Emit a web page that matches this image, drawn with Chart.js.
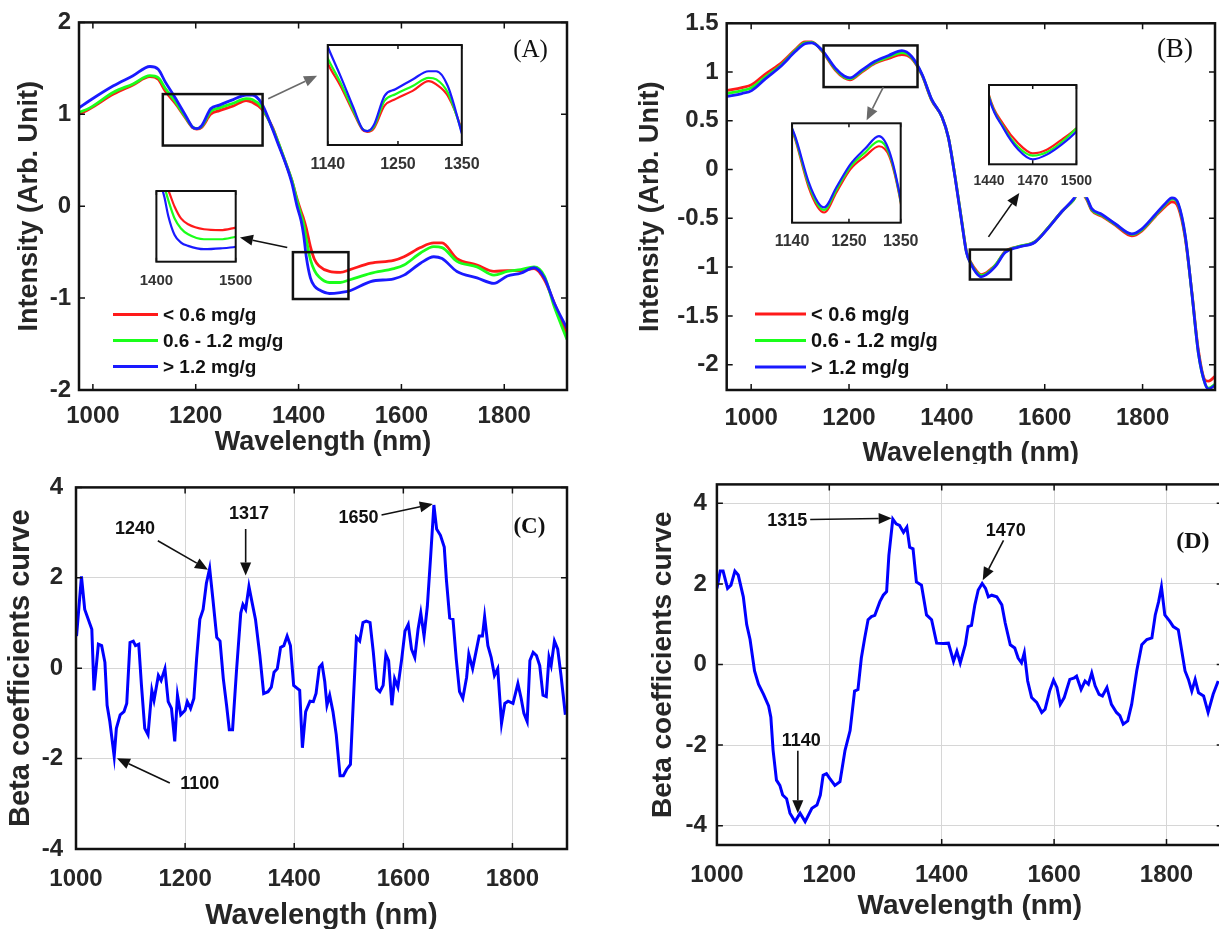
<!DOCTYPE html>
<html>
<head>
<meta charset="utf-8">
<title>NIR spectra and beta coefficients</title>
<script src="https://cdn.jsdelivr.net/npm/chart.js@4.4.1/dist/chart.umd.min.js"></script>
<style>
  html, body { margin: 0; padding: 0; background: #fff; overflow: hidden; }
  body { position: relative; width: 1219px; height: 929px; }
  canvas { position: absolute; }
  #clipB { position: absolute; left: 600px; top: 0; width: 619px; height: 464px; overflow: hidden; }
</style>
</head>
<body>
<canvas id="chartA" width="600" height="460" style="left:0;top:0"></canvas>
<div id="clipB"><canvas id="chartB" width="619" height="470" style="left:0;top:0"></canvas></div>
<canvas id="chartC" width="600" height="480" style="left:0;top:460px"></canvas>
<canvas id="chartD" width="640" height="480" style="left:600px;top:460px"></canvas>
<canvas id="insetA1" width="190" height="145" style="left:300px;top:35px"></canvas>
<canvas id="insetA2" width="135" height="115" style="left:130px;top:180px"></canvas>
<canvas id="insetB1" width="165" height="150" style="left:765px;top:113px"></canvas>
<canvas id="insetB2" width="135" height="126" style="left:965px;top:75px"></canvas>
<script>
// ---- (A) mean spectra per class ----
const waveA = [973, 994, 1040, 1078, 1111, 1127, 1141, 1160, 1180, 1194, 1202, 1212, 1229, 1246, 1273, 1298, 1310, 1328,
  1350, 1358, 1377, 1387, 1397, 1405, 1410, 1415, 1423, 1431, 1440, 1460, 1481, 1500, 1540, 1585, 1605, 1637,
  1663, 1679, 1708, 1747, 1780, 1806, 1832, 1858, 1878, 1897, 1922];
const lowA = [1.00, 1.06, 1.22, 1.32, 1.41, 1.38, 1.25, 1.12, 0.96, 0.855, 0.84, 0.86, 1.00, 1.04, 1.09, 1.15, 1.13, 1.06,
  0.85, 0.73, 0.44, 0.28, 0.08, -0.06, -0.14, -0.24, -0.44, -0.58, -0.65, -0.71, -0.72, -0.69, -0.62, -0.59, -0.55, -0.45,
  -0.40, -0.40, -0.57, -0.64, -0.71, -0.70, -0.70, -0.68, -0.80, -1.05, -1.39];
const midA = [1.02, 1.07, 1.24, 1.33, 1.42, 1.40, 1.28, 1.14, 0.97, 0.86, 0.845, 0.87, 1.03, 1.07, 1.12, 1.17, 1.16, 1.08,
  0.84, 0.73, 0.44, 0.28, 0.06, -0.10, -0.20, -0.36, -0.58, -0.70, -0.77, -0.83, -0.83, -0.80, -0.73, -0.68, -0.64, -0.51,
  -0.44, -0.45, -0.60, -0.66, -0.75, -0.71, -0.69, -0.66, -0.76, -1.09, -1.45];
const highA = [1.07, 1.15, 1.31, 1.42, 1.52, 1.49, 1.35, 1.18, 0.99, 0.86, 0.845, 0.88, 1.06, 1.10, 1.16, 1.21, 1.21, 1.12,
  0.83, 0.71, 0.43, 0.25, 0.00, -0.16, -0.32, -0.55, -0.78, -0.87, -0.91, -0.95, -0.94, -0.92, -0.82, -0.79, -0.75, -0.62,
  -0.55, -0.57, -0.71, -0.78, -0.84, -0.76, -0.73, -0.67, -0.78, -1.05, -1.33];

// ---- (B) mean spectra per class ----
const waveB = [950, 981, 1001, 1029, 1063, 1090, 1110, 1124, 1144, 1172, 1190, 1202, 1226, 1253, 1281, 1308, 1328, 1349,
  1369, 1390, 1403, 1417, 1431, 1440, 1450, 1460, 1470, 1480, 1490, 1500, 1519, 1546, 1580, 1608, 1635, 1659,
  1672, 1686, 1696, 1717, 1744, 1778, 1798, 1826, 1846, 1860, 1873, 1887, 1901, 1914, 1928, 1935, 1948];
const lowB = [0.81, 0.84, 0.87, 0.98, 1.10, 1.23, 1.31, 1.31, 1.22, 1.02, 0.94, 0.92, 1.00, 1.09, 1.14, 1.18, 1.14, 0.97,
  0.71, 0.54, 0.33, -0.08, -0.55, -0.84, -0.96, -1.035, -1.076, -1.06, -1.02, -0.975, -0.84, -0.79, -0.74, -0.59, -0.43, -0.31,
  -0.22, -0.31, -0.42, -0.48, -0.57, -0.68, -0.63, -0.48, -0.38, -0.33, -0.39, -0.70, -1.27, -1.85, -2.16, -2.17, -2.12];
const midB = [0.78, 0.81, 0.84, 0.95, 1.08, 1.22, 1.30, 1.305, 1.225, 1.03, 0.95, 0.93, 1.01, 1.10, 1.155, 1.20, 1.15, 0.975,
  0.715, 0.54, 0.33, -0.08, -0.55, -0.845, -0.97, -1.05, -1.085, -1.07, -1.03, -0.975, -0.845, -0.79, -0.74, -0.59, -0.43, -0.31,
  -0.21, -0.30, -0.41, -0.47, -0.56, -0.665, -0.62, -0.47, -0.36, -0.30, -0.36, -0.68, -1.28, -1.88, -2.20, -2.24, -2.20];
const highB = [0.75, 0.78, 0.81, 0.93, 1.07, 1.21, 1.29, 1.30, 1.23, 1.04, 0.96, 0.94, 1.02, 1.11, 1.17, 1.22, 1.16, 0.98,
  0.72, 0.54, 0.33, -0.09, -0.56, -0.85, -0.975, -1.06, -1.10, -1.08, -1.04, -0.988, -0.85, -0.795, -0.745, -0.595, -0.43, -0.30,
  -0.20, -0.29, -0.40, -0.46, -0.555, -0.66, -0.61, -0.46, -0.35, -0.29, -0.35, -0.67, -1.28, -1.88, -2.20, -2.25, -2.21];

// ---- (C) beta coefficients ----
const waveC = [1001, 1010, 1016, 1029, 1033, 1041, 1047, 1053, 1057, 1062, 1070, 1074, 1081, 1088, 1093, 1099, 1105, 1109,
  1115, 1120, 1126, 1132, 1139, 1143, 1151, 1156, 1163, 1169, 1175, 1181, 1186, 1192, 1200, 1204, 1210, 1216, 1221, 1227,
  1233, 1239, 1245, 1251, 1258, 1264, 1270, 1276, 1281, 1287, 1294, 1302, 1306, 1311, 1317, 1323, 1329, 1337, 1344, 1352,
  1358, 1363, 1369, 1375, 1381, 1387, 1393, 1399, 1405, 1410, 1415, 1421, 1429, 1435, 1440, 1446, 1451, 1456, 1460, 1465,
  1471, 1477, 1484, 1490, 1496, 1503, 1508, 1514, 1520, 1526, 1532, 1539, 1545, 1551, 1557, 1563, 1568, 1573, 1579, 1584,
  1590, 1597, 1603, 1609, 1615, 1621, 1627, 1632, 1638, 1644, 1650, 1656, 1661, 1668, 1675, 1679, 1685, 1691, 1697, 1703,
  1709, 1716, 1720, 1727, 1733, 1739, 1745, 1749, 1755, 1761, 1767, 1773, 1780, 1786, 1792, 1801, 1810, 1816, 1821, 1827,
  1832, 1838, 1844, 1850, 1856, 1862, 1867, 1871, 1877, 1883, 1889, 1897];
const betaC = [0.71, 2.03, 1.30, 0.86, -0.49, 0.53, 0.50, 0.13, -0.82, -1.18, -1.95, -1.33, -1.03, -0.96, -0.78, 0.57, 0.60, 0.50,
  0.53, -0.38, -1.33, -1.47, -0.49, -0.71, -0.16, -0.27, -0.01, -0.74, -0.89, -1.62, -0.60, -1.03, -0.93, -0.74, -0.89, -0.67, 0.20, 1.08,
  1.30, 1.88, 2.21, 1.52, 0.68, 0.60, -0.23, -0.82, -1.36, -1.36, -0.09, 1.22, 1.41, 1.30, 1.81, 1.44, 1.08, 0.28, -0.56, -0.52,
  -0.42, -0.09, -0.01, 0.46, 0.50, 0.71, 0.50, -0.38, -0.44, -0.49, -1.76, -0.96, -0.73, -0.74, -0.56, 0.02, 0.09, -0.30, -0.82, -0.60,
  -0.96, -1.47, -2.38, -2.38, -2.24, -2.13, -0.82, 0.68, 0.60, 1.01, 1.04, 1.01, 0.35, -0.45, -0.52, -0.38, 0.31, 0.17, -0.82, -0.23,
  -0.42, 0.20, 0.82, 0.97, 0.42, 0.24, 0.86, 1.22, 0.71, 1.37, 2.46, 3.61, 3.08, 2.94, 2.68, 1.95, 1.11, 1.08, 0.20, -0.52,
  -0.67, -0.20, 0.31, -0.01, 0.35, 0.71, 0.71, 1.14, 0.50, 0.24, -0.16, -0.01, -1.22, -0.78, -0.73, -0.78, -0.34, -0.67, -1.00, -1.18,
  0.17, 0.35, 0.28, 0.06, -0.60, -0.63, 0.24, 0.06, 0.60, 0.42, -0.16, -1.03];

// ---- (D) beta coefficients ----
const waveD = [1000, 1006, 1011, 1019, 1025, 1032, 1038, 1047, 1053, 1059, 1067, 1074, 1083, 1092, 1096, 1100, 1106, 1112,
  1117, 1124, 1130, 1139, 1148, 1157, 1169, 1178, 1184, 1189, 1195, 1201, 1210, 1219, 1228, 1237, 1245, 1251, 1257, 1263,
  1269, 1275, 1281, 1290, 1296, 1302, 1306, 1313, 1319, 1325, 1332, 1338, 1343, 1349, 1355, 1364, 1373, 1382, 1391, 1403,
  1412, 1421, 1427, 1433, 1442, 1447, 1453, 1459, 1465, 1472, 1478, 1483, 1489, 1498, 1507, 1513, 1522, 1530, 1536, 1542,
  1547, 1553, 1560, 1569, 1578, 1584, 1592, 1599, 1605, 1611, 1618, 1628, 1636, 1640, 1648, 1655, 1661, 1667, 1673, 1680,
  1686, 1694, 1702, 1711, 1717, 1723, 1731, 1738, 1747, 1756, 1765, 1774, 1780, 1786, 1791, 1797, 1806, 1812, 1821, 1833,
  1839, 1845, 1851, 1857, 1866, 1874, 1883, 1892];
const betaD = [1.89, 2.32, 2.32, 1.89, 1.97, 2.32, 2.22, 1.68, 0.99, 0.62, -0.16, -0.49, -0.74, -1.03, -1.31, -2.13, -2.87, -3.00,
  -3.24, -3.33, -3.69, -3.90, -3.69, -3.90, -3.57, -3.49, -3.24, -2.75, -2.71, -2.83, -3.00, -2.91, -2.13, -1.64, -0.66, -0.62, 0.16, 0.66,
  1.11, 1.19, 1.22, 1.56, 1.72, 1.81, 2.71, 3.61, 3.49, 3.45, 3.28, 3.41, 2.91, 2.87, 2.05, 1.97, 1.23, 1.11, 0.53, 0.52,
  0.53, 0.08, 0.33, 0.04, 0.49, 0.94, 0.97, 1.48, 1.85, 2.01, 1.89, 1.68, 1.72, 1.68, 1.48, 1.03, 0.49, 0.41, 0.16, 0.04,
  0.29, -0.41, -0.82, -0.94, -1.19, -1.11, -0.66, -0.39, -0.57, -0.99, -0.82, -0.37, -0.33, -0.29, -0.62, -0.41, -0.49, -0.21, -0.53, -0.74,
  -0.78, -0.57, -0.99, -1.19, -1.27, -1.48, -1.40, -0.99, -0.16, 0.49, 0.62, 0.66, 1.23, 1.56, 1.93, 1.23, 1.07, 0.94, 0.86, -0.16,
  -0.37, -0.66, -0.37, -0.70, -0.78, -1.19, -0.74, -0.41];

// tick values
const wlTicks = [1000, 1200, 1400, 1600, 1800];
const ticksA = [-2, -1, 0, 1, 2];
const ticksB = [-2, -1.5, -1, -0.5, 0, 0.5, 1, 1.5];
const betaTicks = [-4, -2, 0, 2, 4];
const zoomTicksA1 = [1140, 1250, 1350];
const zoomTicksA2 = [1400, 1500];
const zoomTicksB1 = [1140, 1250, 1350];
const zoomTicksB2 = [1440, 1470, 1500];

const classNames = ['< 0.6 mg/g', '0.6 - 1.2 mg/g', '> 1.2 mg/g'];

// zoom boxes [x0, y0, x1, y1] and pointer arrows [tail x, tail y, tip x, tip y], data units
const boxesA = [[1136, 1.22, 1330, 0.66], [1389, -0.50, 1497, -1.01]];
const arrowsA = [[1341, 1.17, 1436, 1.42], [1378, -0.45, 1286, -0.34]];
const boxesB = [[1148, 1.273, 1340, 0.846], [1447, -0.82, 1531, -1.127]];
const arrowsB = [[1270, 0.846, 1236, 0.505], [1485, -0.69, 1548, -0.24]];

// peak labels: text, text x, text y, arrow tail x, tail y, arrow tip x, tip y
const peaksC = [
  ['1240', 1108, 3.08, 1150, 2.82, 1242, 2.18],
  ['1317', 1317, 3.41, 1311, 3.08, 1311, 2.05],
  ['1100', 1227, -2.56, 1172, -2.54, 1075, -1.99],
  ['1650', 1518, 3.32, 1560, 3.39, 1654, 3.63]
];
const peaksD = [
  ['1315', 1125, 3.57, 1166, 3.60, 1311, 3.63],
  ['1140', 1150, -1.89, 1144, -2.14, 1144, -3.69],
  ['1470', 1514, 3.32, 1510, 3.08, 1473, 2.09]
];

const ink = '#262626';
const sans = 'Liberation Sans';

function arrow(ctx, x0, y0, x1, y1, color) {
  const ang = Math.atan2(y1 - y0, x1 - x0);
  const len = 13, half = 5.5;
  const bx = x1 - len * Math.cos(ang), by = y1 - len * Math.sin(ang);
  ctx.strokeStyle = color;
  ctx.fillStyle = color;
  ctx.lineWidth = 1.6;
  ctx.beginPath();
  ctx.moveTo(x0, y0);
  ctx.lineTo(bx, by);
  ctx.stroke();
  ctx.beginPath();
  ctx.moveTo(x1, y1);
  ctx.lineTo(bx + half * Math.sin(ang), by - half * Math.cos(ang));
  ctx.lineTo(bx - half * Math.sin(ang), by + half * Math.cos(ang));
  ctx.closePath();
  ctx.fill();
}

// box round the plot area, with inward tick marks
const framePlugin = {
  id: 'frame',
  defaults: { width: 2.5, tick: 6 },
  afterDraw(chart, args, o) {
    const { ctx, chartArea: a, scales } = chart;
    ctx.save();
    ctx.strokeStyle = '#111';
    if (o.tick) {
      ctx.beginPath();
      scales.x.ticks.forEach(t => {
        const x = scales.x.getPixelForValue(t.value);
        ctx.moveTo(x, a.bottom); ctx.lineTo(x, a.bottom - o.tick);
        ctx.moveTo(x, a.top); ctx.lineTo(x, a.top + o.tick);
      });
      if (scales.y.options.display) {
        scales.y.ticks.forEach(t => {
          const y = scales.y.getPixelForValue(t.value);
          ctx.moveTo(a.left, y); ctx.lineTo(a.left + o.tick, y);
          ctx.moveTo(a.right, y); ctx.lineTo(a.right - o.tick, y);
        });
      }
      ctx.lineWidth = 1.5;
      ctx.stroke();
    }
    ctx.lineWidth = o.width;
    ctx.strokeRect(a.left, a.top, a.width, a.height);
    ctx.restore();
  }
};

// zoom boxes, pointer arrows, peak labels and the panel letter
const notesPlugin = {
  id: 'notes',
  afterDraw(chart, args, o) {
    const ctx = chart.ctx;
    const sx = chart.scales.x, sy = chart.scales.y;
    const px = v => sx.getPixelForValue(v), py = v => sy.getPixelForValue(v);
    ctx.save();
    (o.boxes || []).forEach(b => {
      ctx.strokeStyle = '#111';
      ctx.lineWidth = 2.5;
      ctx.strokeRect(px(b[0]), py(b[1]), px(b[2]) - px(b[0]), py(b[3]) - py(b[1]));
    });
    (o.arrows || []).forEach((a, i) => arrow(ctx, px(a[0]), py(a[1]), px(a[2]), py(a[3]), o.arrowColors[i]));
    ctx.textAlign = 'center';
    ctx.textBaseline = 'middle';
    (o.peaks || []).forEach(p => {
      ctx.font = 'bold 18px "' + sans + '"';
      ctx.fillStyle = '#111';
      ctx.fillText(p[0], px(p[1]), py(p[2]));
      arrow(ctx, px(p[3]), py(p[4]), px(p[5]), py(p[6]), '#111');
    });
    if (o.tag) {
      ctx.font = o.tagFont;
      ctx.fillStyle = '#111';
      ctx.fillText(o.tag[0], px(o.tag[1]), py(o.tag[2]));
    }
    ctx.restore();
  }
};

// line key inside the plot area
const keyPlugin = {
  id: 'key',
  afterDraw(chart, args, o) {
    if (!o.len) return;
    const { ctx, chartArea: a } = chart;
    ctx.save();
    ctx.font = 'bold ' + o.size + 'px "' + sans + '"';
    ctx.textBaseline = 'middle';
    ctx.textAlign = 'left';
    chart.data.datasets.forEach((ds, i) => {
      const y = a.top + o.y + i * o.gap;
      const x = a.left + o.x;
      ctx.strokeStyle = ds.borderColor;
      ctx.lineWidth = 3;
      ctx.beginPath();
      ctx.moveTo(x, y);
      ctx.lineTo(x + o.len, y);
      ctx.stroke();
      ctx.fillStyle = '#111';
      ctx.fillText(ds.label, x + o.len + 5, y + 1);
    });
    ctx.restore();
  }
};

Chart.register(framePlugin, notesPlugin, keyPlugin);

function line(label, xs, ys, color, order, width, smooth) {
  return {
    label: label,
    data: xs.map((x, i) => ({ x: x, y: ys[i] })),
    borderColor: color,
    borderWidth: width,
    pointRadius: 0,
    tension: smooth ? 0.4 : 0,
    cubicInterpolationMode: smooth ? 'monotone' : 'default',
    order: order
  };
}

function classLines(xs, low, mid, high, width) {
  return [
    line(classNames[0], xs, low, '#ff1a1a', 2, width, true),
    line(classNames[1], xs, mid, '#1aff1a', 1, width, true),
    line(classNames[2], xs, high, '#1a1aff', 0, width, true)
  ];
}

// one main panel; g holds the frame geometry in canvas pixels
function panel(id, datasets, g) {
  const tickFont = { family: sans, size: 24, weight: 'bold' };
  const titleFont = { family: sans, size: g.titleSize, weight: 'bold' };
  const grid = g.grid ? { color: '#d6d6d6', lineWidth: 1, drawTicks: false } : { display: false, drawTicks: false };
  return new Chart(document.getElementById(id), {
    type: 'line',
    data: { datasets: datasets },
    options: {
      responsive: false,
      animation: false,
      events: [],
      layout: { padding: { left: 0, top: g.top, right: g.right, bottom: g.bottom } },
      scales: {
        x: {
          type: 'linear', min: g.xMin, max: g.xMax,
          afterBuildTicks: s => { s.ticks = wlTicks.map(v => ({ value: v })); },
          afterFit: s => { s.height = g.xAxisH; },
          grid: grid,
          border: { display: false },
          ticks: { padding: g.xTickPad, font: tickFont, color: ink, autoSkip: false, maxRotation: 0, callback: v => String(v) },
          title: { display: true, text: 'Wavelength (nm)', font: titleFont, color: ink, padding: { top: 0, bottom: g.xTitlePad } }
        },
        y: {
          type: 'linear', min: g.yMin, max: g.yMax,
          afterBuildTicks: s => { s.ticks = g.yTicks.map(v => ({ value: v })); },
          afterFit: s => { s.width = g.yAxisW; },
          grid: grid,
          border: { display: false },
          ticks: { padding: g.yTickPad, font: tickFont, color: ink, autoSkip: false, callback: v => String(v) },
          title: { display: true, text: g.yTitle, font: titleFont, color: ink, padding: { top: g.yTitlePad, bottom: 0 } }
        }
      },
      plugins: {
        legend: { display: false },
        tooltip: { enabled: false },
        frame: { width: 2.5, tick: 6 },
        notes: g.notes,
        key: g.key || {}
      }
    }
  });
}

// magnified inset: same spectra, narrower window
function inset(id, datasets, g) {
  return new Chart(document.getElementById(id), {
    type: 'line',
    data: { datasets: datasets },
    options: {
      responsive: false,
      animation: false,
      events: [],
      layout: { padding: { left: g.left, top: g.top, right: g.right, bottom: g.bottom } },
      scales: {
        x: {
          type: 'linear', min: g.xMin, max: g.xMax,
          afterBuildTicks: s => { s.ticks = g.xTicks.map(v => ({ value: v })); },
          afterFit: s => { s.height = g.axisH; },
          grid: { display: false, drawTicks: false },
          border: { display: false },
          ticks: {
            padding: g.pad, font: { family: sans, size: g.size, weight: 'bold' }, color: '#333',
            autoSkip: false, maxRotation: 0, callback: v => String(v),
            showLabelBackdrop: !!g.backdrop,
            backdropColor: c => (g.backdrop && c.index === g.backdrop) ? '#fff' : 'rgba(255,255,255,0)',
            backdropPadding: { left: 2, right: 2, top: 2, bottom: 8 }
          }
        },
        y: { display: false, min: g.yMin, max: g.yMax }
      },
      plugins: {
        legend: { display: false },
        tooltip: { enabled: false },
        frame: { width: 2, tick: 4 },
        notes: {},
        key: {}
      }
    }
  });
}

panel('chartA', classLines(waveA, lowA, midA, highA, 2.8), {
  xMin: 973, xMax: 1922, yMin: -2, yMax: 2, yTicks: ticksA, yTitle: 'Intensity (Arb. Unit)',
  top: 22, right: 33, bottom: 0, yAxisW: 79, xAxisH: 70,
  xTickPad: 12, yTickPad: 8, xTitlePad: 1.5, yTitlePad: 13.8, titleSize: 27, grid: false,
  notes: { boxes: boxesA, arrows: arrowsA, arrowColors: ['#6a6a6a', '#111'],
           tag: ['(A)', 1851, 1.69], tagFont: '25px "Liberation Serif"' },
  key: { x: 34, y: 292, gap: 26, len: 45, size: 19 }
});

panel('chartB', classLines(waveB, lowB, midB, highB, 2.8), {
  xMin: 950, xMax: 1948, yMin: -2.26, yMax: 1.5, yTicks: ticksB, yTitle: 'Intensity (Arb. Unit)',
  top: 23.3, right: 4, bottom: 0, yAxisW: 126.7, xAxisH: 80,
  xTickPad: 14, yTickPad: 8, xTitlePad: 0.5, yTitlePad: 34.8, titleSize: 27, grid: false,
  notes: { boxes: boxesB, arrows: arrowsB, arrowColors: ['#6a6a6a', '#111'],
           tag: ['(B)', 1866, 1.23], tagFont: '27px "Liberation Serif"' },
  key: { x: 28.3, y: 290.7, gap: 26.5, len: 51, size: 20 }
});

panel('chartC', [line('beta', waveC, betaC, '#0000ff', 0, 3, false)], {
  xMin: 1000, xMax: 1900, yMin: -4, yMax: 4, yTicks: betaTicks, yTitle: 'Beta coefficients curve',
  top: 24, right: 33, bottom: 3, yAxisW: 76, xAxisH: 88,
  xTickPad: 15.6, yTickPad: 13, xTitlePad: 3.6, yTitlePad: 3.6, titleSize: 29, grid: true,
  notes: { peaks: peaksC, tag: ['(C)', 1831, 3.13], tagFont: 'bold 23px "Liberation Serif"' }
});

panel('chartD', [line('beta', waveD, betaD, '#0000ff', 0, 3, false)], {
  xMin: 1000, xMax: 1900, yMin: -4.48, yMax: 4.47, yTicks: betaTicks, yTitle: 'Beta coefficients curve',
  top: 21.7, right: 17.3, bottom: 15, yAxisW: 116.9, xAxisH: 80,
  xTickPad: 15.6, yTickPad: 10, xTitlePad: 2.2, yTitlePad: 46.2, titleSize: 28, grid: true,
  notes: { peaks: peaksD, tag: ['(D)', 1847, 3.04], tagFont: 'bold 24px "Liberation Serif"' }
});

inset('insetA1', classLines(waveA, lowA, midA, highA, 2.2), {
  xMin: 1140, xMax: 1350, yMin: 0.76, yMax: 1.37, xTicks: zoomTicksA1,
  left: 23.3, top: 10, right: 25, bottom: 5, axisH: 30, pad: 10.4, size: 16
});
inset('insetA2', classLines(waveA, lowA, midA, highA, 2.2), {
  xMin: 1400, xMax: 1500, yMin: -1.1, yMax: -0.25, xTicks: zoomTicksA2,
  left: 25, top: 11, right: 29.3, bottom: 3.3, axisH: 30, pad: 9.7, size: 15
});
inset('insetB1', classLines(waveB, lowB, midB, highB, 2.2), {
  xMin: 1140, xMax: 1350, yMin: 0.88, yMax: 1.27, xTicks: zoomTicksB1,
  left: 26, top: 10.3, right: 29.3, bottom: 10.3, axisH: 30, pad: 9.7, size: 16
});
inset('insetB2', classLines(waveB, lowB, midB, highB, 2.2), {
  xMin: 1440, xMax: 1500, yMin: -1.12, yMax: -0.80, xTicks: zoomTicksB2,
  left: 24, top: 10, right: 20.7, bottom: 0.7, axisH: 36, pad: 8, size: 14, backdrop: 2
});
</script>
</body>
</html>
